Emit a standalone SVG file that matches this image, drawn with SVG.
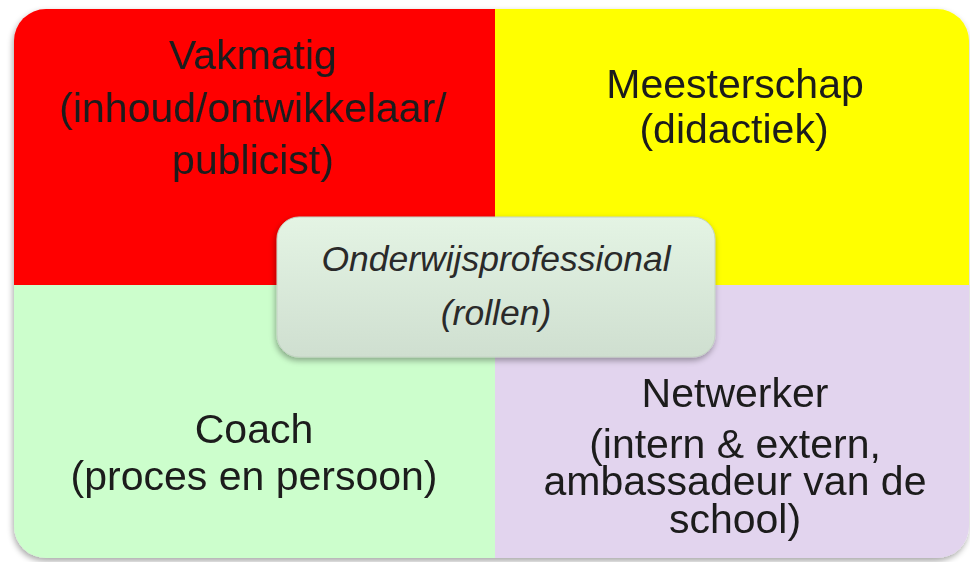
<svg xmlns="http://www.w3.org/2000/svg" width="970" height="562" viewBox="0 0 970 562">
<defs>
<style>
.t{font-family:"Liberation Sans",Arial,Helvetica,sans-serif;font-size:41px;fill:#1c1c1c;text-anchor:middle}
.c{font-family:"Liberation Sans",Arial,Helvetica,sans-serif;font-size:35.5px;font-style:italic;fill:#2a2a2a;text-anchor:middle}
</style>
<clipPath id="outer"><rect x="14" y="9" width="955" height="549" rx="32" ry="32"/></clipPath>
<linearGradient id="cg" x1="0" y1="0" x2="0" y2="1">
<stop offset="0" stop-color="#e4f4e4"/>
<stop offset="1" stop-color="#cfdfd0"/>
</linearGradient>
<filter id="sh" x="-10%" y="-10%" width="120%" height="125%">
<feGaussianBlur in="SourceAlpha" stdDeviation="3"/>
<feOffset dx="-1" dy="3" result="b"/>
<feComponentTransfer><feFuncA type="linear" slope="0.35"/></feComponentTransfer>
<feMerge><feMergeNode/><feMergeNode in="SourceGraphic"/></feMerge>
</filter>
</defs>
<rect width="970" height="562" fill="#ffffff"/>
<g filter="url(#sh)">
<g clip-path="url(#outer)">
<g id="vakmatig">
<rect x="0" y="0" width="495" height="285" fill="#ff0000"/>
<text class="t" x="253" y="69">Vakmatig</text>
<text class="t" x="253" y="122">(inhoud/ontwikkelaar/</text>
<text class="t" x="253" y="174">publicist)</text>
</g>
<g id="meesterschap">
<rect x="495" y="0" width="475" height="285" fill="#ffff00"/>
<text class="t" x="735" y="98">Meesterschap</text>
<text class="t" x="734" y="143">(didactiek)</text>
</g>
<g id="coach">
<rect x="0" y="285" width="495" height="277" fill="#ccfecc"/>
<text class="t" x="254" y="443">Coach</text>
<text class="t" x="254" y="490">(proces en persoon)</text>
</g>
<g id="netwerker">
<rect x="495" y="285" width="475" height="277" fill="#e2d4ee"/>
<text class="t" x="735" y="407">Netwerker</text>
<text class="t" x="735" y="458">(intern &amp; extern,</text>
<text class="t" x="735" y="495">ambassadeur van de</text>
<text class="t" x="735" y="533">school)</text>
</g>
</g>
</g>
<g id="onderwijsprofessional">
<rect x="277" y="217" width="438" height="140" rx="22" ry="22" fill="url(#cg)" stroke="#c4d2c4" stroke-width="1" filter="url(#sh)"/>
<text class="c" x="496" y="271">Onderwijsprofessional</text>
<text class="c" x="496" y="325">(rollen)</text>
</g>
</svg>
